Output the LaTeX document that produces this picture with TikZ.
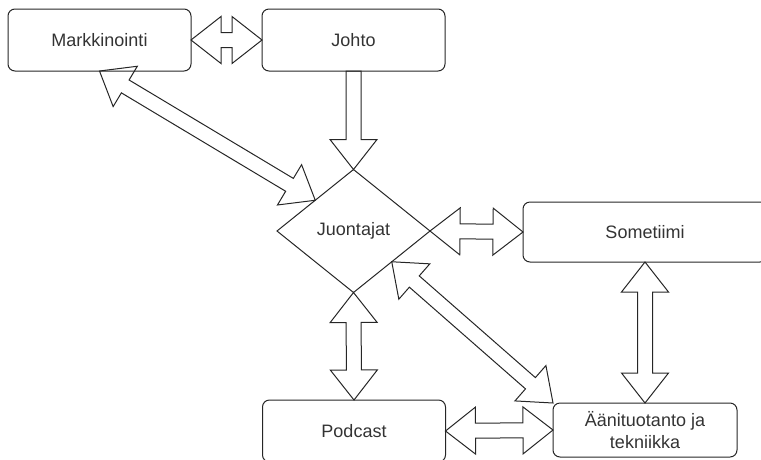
\documentclass[tikz,border=0pt]{standalone}
\usepackage{fontspec}
\setmainfont{Liberation Sans}
\usetikzlibrary{calc,shapes.geometric}

\newcommand\arrhead{30pt}
\newcommand\arrwide{23.5pt}
\newcommand\arrshaft{7.5pt}
\newcommand\fatarrow[2]{%
  \draw[fat] (#1)
    -- ($(#1)!\arrhead!(#2)!\arrwide!90:(#2)$)
    -- ($(#1)!\arrhead!(#2)!\arrshaft!90:(#2)$)
    -- ($(#2)!\arrhead!(#1)!\arrshaft!-90:(#1)$)
    -- ($(#2)!\arrhead!(#1)!\arrwide!-90:(#1)$)
    -- (#2)
    -- ($(#2)!\arrhead!(#1)!\arrwide!90:(#1)$)
    -- ($(#2)!\arrhead!(#1)!\arrshaft!90:(#1)$)
    -- ($(#1)!\arrhead!(#2)!\arrshaft!-90:(#2)$)
    -- ($(#1)!\arrhead!(#2)!\arrwide!-90:(#2)$)
    -- cycle;}
\newcommand\fatonearrow[2]{%
  \draw[fat] ($(#1)!\arrshaft!90:(#2)$)
    -- ($(#2)!\arrhead!(#1)!\arrshaft!-90:(#1)$)
    -- ($(#2)!\arrhead!(#1)!\arrwide!-90:(#1)$)
    -- (#2)
    -- ($(#2)!\arrhead!(#1)!\arrwide!90:(#1)$)
    -- ($(#2)!\arrhead!(#1)!\arrshaft!90:(#1)$)
    -- ($(#1)!\arrshaft!-90:(#2)$)
    -- cycle;}

\begin{document}
\begin{tikzpicture}[x=1pt,y=-1pt,
    box/.style={draw=black!85, line width=1pt, rounded corners=7pt,
      minimum width=183pt, minimum height=62pt, inner sep=0pt, outer sep=0pt,
      text=black!80, font=\fontsize{18}{22}\selectfont, align=center},
    decision/.style={draw=black!85, line width=1pt, diamond, inner sep=0pt, outer sep=0pt,
      minimum width=153pt, minimum height=123pt,
      text=black!80, font=\fontsize{18}{22}\selectfont},
    fat/.style={draw=black!85, line width=1pt, line join=miter}]
\useasboundingbox (0,0) rectangle (761,459);
\clip (0,0) rectangle (761,459);

\node[box] (mark) at (99.5,40) {Markkinointi};
\node[box] (johto) at (353.5,40) {Johto};
\node[decision] (juo) at (353.5,231) {Juontajat};
\node[box, minimum width=244pt, minimum height=60pt] (some) at (645,232) {Sometiimi};
\node[box] (pod) at (354,431) {Podcast};
\node[box, minimum width=184pt, minimum height=54pt] (aani) at (645,430) {Äänituotanto ja\\tekniikka};

\fatarrow{mark.east}{johto.west}
\fatonearrow{johto.south}{juo.north}
\fatarrow{mark.south}{juo.north west}
\fatarrow{juo.east}{some.west}
\fatarrow{juo.south}{pod.north}
\fatarrow{juo.south east}{aani.north west}
\fatarrow{some.south}{aani.north}
\fatarrow{pod.east}{aani.west}
\end{tikzpicture}
\end{document}
